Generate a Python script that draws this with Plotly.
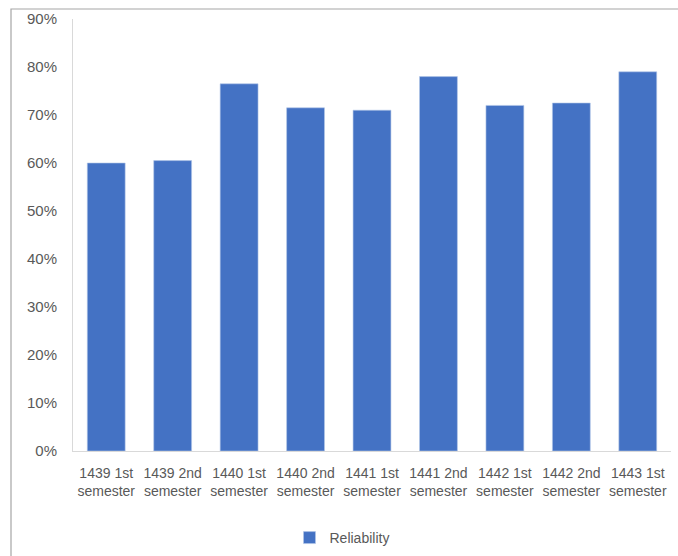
import plotly.graph_objects as go

categories = ["1439 1st<br>semester", "1439 2nd<br>semester", "1440 1st<br>semester",
              "1440 2nd<br>semester", "1441 1st<br>semester", "1441 2nd<br>semester",
              "1442 1st<br>semester", "1442 2nd<br>semester", "1443 1st<br>semester"]
reliability = [0.60, 0.605, 0.765, 0.715, 0.71, 0.78, 0.72, 0.725, 0.79]
series_name = "Reliability"
tick_vals = [0, 0.1, 0.2, 0.3, 0.4, 0.5, 0.6, 0.7, 0.8, 0.9]

W, H = 678, 556
ml, mr, mt, mb = 73, 7, 19, 105
pw, ph = W - ml - mr, H - mt - mb

def px(x):
    return (x - ml) / pw

def py(y):
    return (H - mb - y) / ph

font_family = "Liberation Sans Narrow, Arial Narrow, Liberation Sans, Arial, sans-serif"

fig = go.Figure()
fig.add_trace(go.Bar(
    x=categories, y=reliability, name=series_name,
    marker=dict(color="#4472C4", line=dict(color="#b4c7e7", width=0.6)),
    showlegend=True,
))

fig.update_layout(
    width=W, height=H,
    margin=dict(l=ml, r=mr, t=mt, b=mb, autoexpand=False),
    paper_bgcolor="white", plot_bgcolor="white",
    font=dict(family=font_family, size=14, color="#595959"),
    bargap=0.43,
    showlegend=True,
    legend=dict(orientation="h", x=px(342), xanchor="center", y=py(538), yanchor="middle",
                font=dict(size=14, color="#595959"), itemwidth=30),
    xaxis=dict(showgrid=False, showline=True, linecolor="#d9d9d9", linewidth=1,
               ticks="", automargin=False, ticklabelstandoff=9,
               tickfont=dict(size=14, color="#595959")),
    yaxis=dict(range=[0, 0.9], tickvals=tick_vals, tickformat=".0%",
               showgrid=False, showline=True, linecolor="#d9d9d9", linewidth=1,
               zeroline=False, ticks="", ticklabelstandoff=12, automargin=False,
               tickfont=dict(size=15, color="#595959")),
    shapes=[dict(type="path", xref="paper", yref="paper",
                 path=f"M {px(11)} {py(560)} L {px(11)} {py(9)} L {px(680)} {py(9)}",
                 line=dict(color="#a6a6a6", width=1.2))],
)

fig.write_html("out.html")
